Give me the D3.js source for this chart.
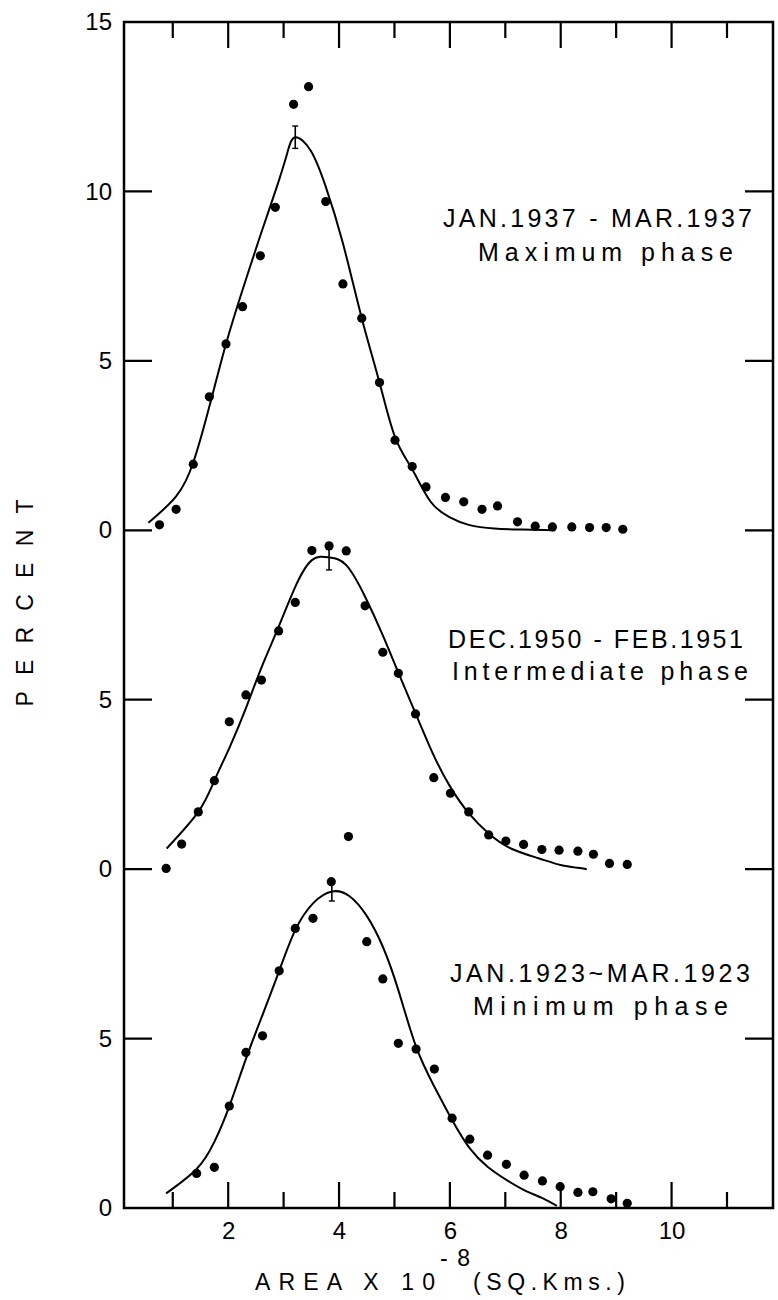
<!DOCTYPE html>
<html lang="en">
<title>Sunspot area distribution</title>
<meta charset="UTF-8">

<!-- Load d3.js -->
<script src="https://d3js.org/d3.v7.min.js"></script>

<style>
body { margin: 0; background: #fff; }
svg { font-family: "Liberation Sans", Arial, sans-serif; }
</style>
<body>
<div id="my_dataviz"></div>

<script>
// values: x = area x 10^-8 sq.km, y = percent in each panel

// JAN.1937 - MAR.1937, maximum phase
var maxPtsX = [0.76, 1.06, 1.37, 1.66, 1.96, 2.26, 2.58, 2.85, 3.18, 3.45, 3.76, 4.07, 4.41, 4.73,
               5.01, 5.32, 5.57, 5.92, 6.25, 6.58, 6.86, 7.22, 7.54, 7.85, 8.20, 8.52, 8.82, 9.12];
var maxPtsY = [0.16, 0.62, 1.95, 3.94, 5.50, 6.60, 8.10, 9.53, 12.57, 13.09, 9.70, 7.27, 6.26, 4.36,
               2.66, 1.88, 1.28, 0.97, 0.84, 0.62, 0.72, 0.25, 0.12, 0.10, 0.10, 0.08, 0.08, 0.03];
var maxFitX = [0.56, 1.06, 1.37, 1.66, 1.96, 2.26, 2.58, 2.85, 3.06, 3.21, 3.49, 3.76, 4.07, 4.41,
               4.73, 5.01, 5.32, 5.65, 6.00, 6.34, 6.80, 7.30, 7.90];
var maxFitY = [0.22, 1.00, 2.00, 3.65, 5.50, 7.10, 8.70, 10.00, 11.10, 11.60, 11.20, 10.14, 8.47, 6.26,
               4.36, 2.75, 1.80, 0.85, 0.38, 0.16, 0.05, 0.02, 0.0];

// DEC.1950 - FEB.1951, intermediate phase
var intPtsX = [0.88, 1.16, 1.46, 1.75, 2.02, 2.32, 2.60, 2.91, 3.21, 3.51, 3.82, 4.13, 4.47, 4.79,
               5.07, 5.38, 5.71, 6.01, 6.34, 6.70, 7.01, 7.33, 7.66, 7.97, 8.31, 8.59, 8.88, 9.20];
var intPtsY = [0.02, 0.74, 1.69, 2.61, 4.35, 5.14, 5.58, 7.03, 7.87, 9.40, 9.54, 9.39, 7.77, 6.40,
               5.78, 4.58, 2.70, 2.24, 1.69, 1.01, 0.83, 0.73, 0.58, 0.56, 0.53, 0.44, 0.17, 0.14];
var intFitX = [0.89, 1.46, 1.75, 2.03, 2.32, 2.60, 2.91, 3.21, 3.51, 3.82, 4.13, 4.47, 4.79, 5.07,
               5.38, 5.71, 6.01, 6.34, 6.70, 7.10, 7.60, 8.00, 8.30, 8.47];
var intFitY = [0.61, 1.69, 2.61, 3.61, 4.75, 5.95, 7.15, 8.33, 9.12, 9.20, 8.97, 8.04, 6.90, 5.80,
               4.60, 3.35, 2.42, 1.65, 1.05, 0.61, 0.32, 0.12, 0.04, 0.0];

// JAN.1923 - MAR.1923, minimum phase
var minPtsX = [1.43, 1.75, 2.02, 2.32, 2.62, 2.92, 3.21, 3.53, 3.86, 4.17, 4.50, 4.79, 5.07, 5.39,
               5.72, 6.04, 6.36, 6.68, 7.02, 7.34, 7.67, 7.99, 8.31, 8.58, 8.91, 9.20];
var minPtsY = [1.02, 1.20, 3.01, 4.59, 5.08, 7.00, 8.25, 8.55, 9.63, 10.96, 7.86, 6.76, 4.86, 4.69,
               4.10, 2.65, 2.03, 1.56, 1.29, 0.97, 0.80, 0.63, 0.46, 0.48, 0.27, 0.14];
var minFitX = [0.88, 1.43, 1.75, 2.02, 2.32, 2.62, 2.92, 3.21, 3.53, 3.87, 4.19, 4.50, 4.79, 5.07,
               5.39, 5.72, 6.04, 6.36, 6.68, 7.02, 7.34, 7.67, 7.93];
var minFitY = [0.43, 1.15, 1.95, 3.00, 4.40, 5.70, 7.00, 8.20, 8.99, 9.34, 9.20, 8.62, 7.71, 6.43,
               4.76, 3.58, 2.60, 1.76, 1.22, 0.83, 0.53, 0.29, 0.06];

// peak of each fitted curve with its error bar (max, intermediate, min)
var peakX = [3.21, 3.82, 3.87];
var peakY = [11.6, 9.2, 9.34];
var peakErr = [0.33, 0.37, 0.28];

// panels are stacked: each one is shifted up by 10 percent
var panelOffset = [20, 10, 0];
var phaseDates = ["JAN.1937 - MAR.1937", "DEC.1950 - FEB.1951", "JAN.1923~MAR.1923"];
var phaseNames = ["Maximum phase", "Intermediate phase", "Minimum phase"];

// tick labels
var yTickValues = [0, 5, 10, 15, 20, 25, 30, 35];
var yTickLabels = ["0", "5", "0", "5", "0", "5", "10", "15"];
var xMajorTicks = [2, 4, 6, 8, 10];
var xMinorTicks = [1, 3, 5, 7, 9, 11];

// set the dimensions of the graph
var width = 778, height = 1300;
var plotLeft = 124, plotRight = 773, plotTop = 22, plotBottom = 1208;

var svg = d3.select("#my_dataviz")
  .append("svg")
    .attr("width", width)
    .attr("height", height);

// scales (axis origin of the scan sits a little right of zero)
var x = d3.scaleLinear().domain([0.12, 11.83]).range([plotLeft, plotRight]);
var y = d3.scaleLinear().domain([0, 35]).range([plotBottom, plotTop]);

// tick labels from d3 axes; frame and inward ticks drawn below
function styleAxis(g) {
  g.select(".domain").remove();
  g.selectAll(".tick line").remove();
  g.selectAll(".tick text")
    .attr("font-family", "Liberation Sans, Arial, sans-serif")
    .attr("font-size", 24)
    .attr("fill", "#000");
}

svg.append("g")
  .attr("transform", "translate(" + plotLeft + ",0)")
  .call(d3.axisLeft(y).tickValues(yTickValues).tickSize(0)
    .tickPadding(12).tickFormat(function(d, i) { return yTickLabels[i]; }))
  .call(styleAxis);

svg.append("g")
  .attr("transform", "translate(0," + plotBottom + ")")
  .call(d3.axisBottom(x).tickValues(xMajorTicks).tickSize(0)
    .tickPadding(14).tickFormat(d3.format("d")))
  .call(styleAxis);

// frame
svg.append("rect")
  .attr("x", plotLeft).attr("y", plotTop)
  .attr("width", plotRight - plotLeft).attr("height", plotBottom - plotTop)
  .attr("fill", "none")
  .attr("stroke", "#000")
  .attr("stroke-width", 2.5);

// inward ticks on all four sides, one path
var tickPath = d3.path();
yTickValues.slice(1, -1).forEach(function(v) {
  tickPath.moveTo(plotLeft, y(v)); tickPath.lineTo(plotLeft + 28, y(v));
  tickPath.moveTo(plotRight, y(v)); tickPath.lineTo(plotRight - 28, y(v));
});
xMajorTicks.forEach(function(v) {
  tickPath.moveTo(x(v), plotTop); tickPath.lineTo(x(v), plotTop + 26);
  tickPath.moveTo(x(v), plotBottom); tickPath.lineTo(x(v), plotBottom - 26);
});
xMinorTicks.forEach(function(v) {
  tickPath.moveTo(x(v), plotTop); tickPath.lineTo(x(v), plotTop + 16);
  tickPath.moveTo(x(v), plotBottom); tickPath.lineTo(x(v), plotBottom - 16);
});
svg.append("path")
  .attr("d", tickPath.toString())
  .attr("fill", "none")
  .attr("stroke", "#000")
  .attr("stroke-width", 2.2);

// axis titles
svg.append("text")
  .attr("transform", "translate(33,603) rotate(-90)")
  .attr("text-anchor", "middle")
  .attr("font-size", 23)
  .attr("textLength", 207)
  .attr("lengthAdjust", "spacing")
  .text("PERCENT");

svg.append("text")
  .attr("x", 255).attr("y", 1290)
  .attr("font-size", 23)
  .attr("textLength", 180)
  .attr("lengthAdjust", "spacing")
  .text("AREA X 10");

svg.append("text")
  .attr("x", 440).attr("y", 1266)
  .attr("font-size", 23)
  .attr("textLength", 30)
  .attr("lengthAdjust", "spacing")
  .text("-8");

svg.append("text")
  .attr("x", 473).attr("y", 1290)
  .attr("font-size", 23)
  .attr("textLength", 152)
  .attr("lengthAdjust", "spacing")
  .text("(SQ.Kms.)");

// one panel per phase
var panels = [
  {ptsX: maxPtsX, ptsY: maxPtsY, fitX: maxFitX, fitY: maxFitY},
  {ptsX: intPtsX, ptsY: intPtsY, fitX: intFitX, fitY: intFitY},
  {ptsX: minPtsX, ptsY: minPtsY, fitX: minFitX, fitY: minFitY}
];

// placement of the phase captions (pixels)
var captionLayout = [
  {dateX: 443, dateY: 227, dateW: 309, nameX: 478, nameY: 261, nameW: 255},
  {dateX: 448, dateY: 648, dateW: 295, nameX: 452, nameY: 680, nameW: 296},
  {dateX: 450, dateY: 982, dateW: 300, nameX: 473, nameY: 1015, nameW: 255}
];

panels.forEach(function(p, i) {
  var off = panelOffset[i];
  var g = svg.append("g");

  var fit = p.fitX.map(function(v, j) { return [v, p.fitY[j]]; });
  var pts = p.ptsX.map(function(v, j) { return [v, p.ptsY[j]]; });

  // fitted curve
  g.append("path")
    .datum(fit)
    .attr("fill", "none")
    .attr("stroke", "#000")
    .attr("stroke-width", 2)
    .attr("stroke-linejoin", "round")
    .attr("d", d3.line()
      .curve(d3.curveNatural)
      .x(function(d) { return x(d[0]); })
      .y(function(d) { return y(d[1] + off); }));

  // observed percentages
  g.selectAll("circle")
    .data(pts)
    .enter()
    .append("circle")
      .attr("cx", function(d) { return x(d[0]); })
      .attr("cy", function(d) { return y(d[1] + off); })
      .attr("r", 4.6)
      .attr("fill", "#000");

  // error bar at the peak
  var ex = x(peakX[i]);
  var y0 = y(peakY[i] - peakErr[i] + off), y1 = y(peakY[i] + peakErr[i] + off);
  g.append("line")
    .attr("x1", ex).attr("x2", ex).attr("y1", y0).attr("y2", y1)
    .attr("stroke", "#000").attr("stroke-width", 1.6);
  [y0, y1].forEach(function(yy) {
    g.append("line")
      .attr("x1", ex - 3).attr("x2", ex + 3).attr("y1", yy).attr("y2", yy)
      .attr("stroke", "#000").attr("stroke-width", 1.4);
  });

  // captions
  var c = captionLayout[i];
  g.append("text")
    .attr("x", c.dateX).attr("y", c.dateY)
    .attr("font-size", 25)
    .attr("textLength", c.dateW)
    .attr("lengthAdjust", "spacing")
    .text(phaseDates[i]);
  g.append("text")
    .attr("x", c.nameX).attr("y", c.nameY)
    .attr("font-size", 25)
    .attr("textLength", c.nameW)
    .attr("lengthAdjust", "spacing")
    .text(phaseNames[i]);
});
</script>
</body>
</html>
